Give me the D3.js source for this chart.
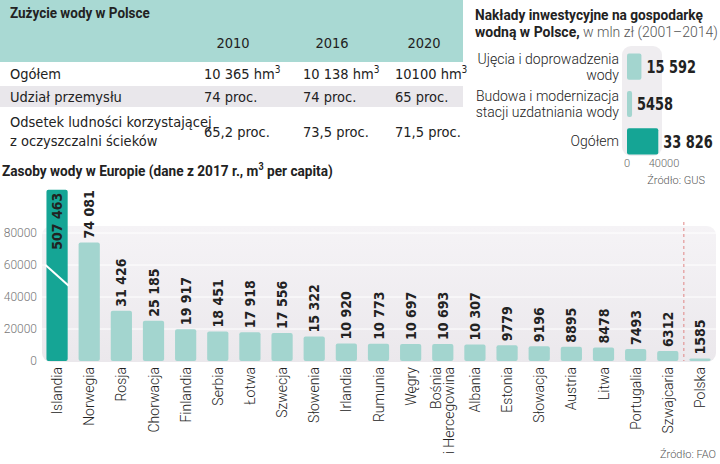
<!DOCTYPE html>
<html>
<head>
<meta charset="utf-8">
<script src="https://cdn.jsdelivr.net/npm/d3@7"></script>
<style>
	body { margin: 0; background: #fff; }
	svg { display: block; }
</style>
</head>
<body>
<svg id="chart" width="720" height="464" viewBox="0 0 720 464"></svg>
<script>

// tabela: zuzycie wody
const table_title = 'Zużycie wody w Polsce';
const table_years = ['2010', '2016', '2020'];
const table_labels = [['Ogółem'], ['Udział przemysłu'], ['Odsetek ludności korzystającej', 'z oczyszczalni ścieków']];
const usage_total = ['10 365 hm', '10 138 hm', '10100 hm'];
const usage_industry = ['74 proc.', '74 proc.', '65 proc.'];
const usage_sewage = ['65,2 proc.', '73,5 proc.', '71,5 proc.'];

// naklady inwestycyjne
const invest_labels = [['Ujęcia i doprowadzenia', 'wody'], ['Budowa i modernizacja', 'stacji uzdatniania wody'], ['Ogółem']];
const invest_values = [15592, 5458, 33826];
const invest_ticks = [0, 40000];

// zasoby wody w Europie
const countries = ['Islandia', 'Norwegia', 'Rosja', 'Chorwacja', 'Finlandia', 'Serbia', 'Łotwa', 'Szwecja', 'Słowenia', 'Irlandia',
	'Rumunia', 'Węgry', 'Bośnia|i Hercegowina', 'Albania', 'Estonia', 'Słowacja', 'Austria', 'Litwa', 'Portugalia', 'Szwajcaria', 'Polska'];
const water_values = [507463, 74081, 31426, 25185, 19917, 18451, 17918, 17556, 15322, 10920,
	10773, 10697, 10693, 10307, 9779, 9196, 8895, 8478, 7493, 6312, 1585];
const water_ticks = [0, 20000, 40000, 60000, 80000];
const water_break = 107000; // Islandia poza skala

const TEAL = '#15a595';
const TEAL_LIGHT = '#a3d5cf';
const TXT = '#222';
const FONT = '"Liberation Sans Narrow", "DejaVu Sans Condensed", sans-serif';
const NUM_FONT = '"DejaVu Sans Condensed", sans-serif';
const LIGHT_FONT = 'Roboto, sans-serif';

function fmt(v) {
	// 4 cyfry bez spacji, wieksze z odstepem tysiecy
	if (v < 10000) return String(v);
	return d3.format(',')(v).replace(/,/g, '\u00a0');
}

// pogrubiony tytul, sciesniony w poziomie do zadanej szerokosci
function title(g, x, y, width) {
	const t = g.append('text').attr('x', 0).attr('y', 0)
		.style('font', 'bold 15px Roboto, sans-serif').attr('fill', TXT);
	// skala liczona po dodaniu tekstu
	t.fit = () => {
		const k = width / t.node().getComputedTextLength();
		t.attr('transform', 'translate(' + x + ',' + y + ') scale(' + k + ',1)');
		return t;
	};
	return t;
}

function drawTable(svg) {
	const g = svg.append('g');
	g.append('rect').attr('x', 0).attr('y', 0).attr('width', 463).attr('height', 62).attr('fill', '#a9d9d3');
	g.append('rect').attr('x', 0).attr('y', 86).attr('width', 463).attr('height', 21).attr('fill', '#e9e7eb');

	title(g, 10, 18, 140).text(table_title).fit();

	const col_x = [204, 303, 395];
	g.selectAll('text.year').data(table_years).enter().append('text')
		.attr('class', 'year')
		.attr('x', (d, i) => col_x[i] + 29).attr('y', 48)
		.attr('text-anchor', 'middle')
		.style('font', '14.5px ' + FONT).attr('fill', TXT).text(d => d);

	const row_y = [79, 102, 127];
	table_labels.forEach((lines, r) => {
		lines.forEach((l, k) => {
			g.append('text').attr('x', 10).attr('y', row_y[r] + k * 19)
				.style('font', '14.5px ' + FONT).attr('fill', TXT).text(l);
		});
	});

	const rows = [usage_total, usage_industry, usage_sewage];
	const val_y = [79, 102, 137];
	rows.forEach((vals, r) => {
		vals.forEach((v, i) => {
			const t = g.append('text').attr('x', col_x[i]).attr('y', val_y[r])
				.style('font', '14.5px ' + FONT).attr('fill', TXT).text(v);
			if (r === 0) {
				t.append('tspan').attr('dy', -6).style('font-size', '10px').text('3');
			}
		});
	});
}

function drawInvest(svg) {
	const g = svg.append('g');
	title(g, 475, 20, 228).text('Nakłady inwestycyjne na gospodarkę').fit();
	const t2 = title(g, 475, 37, 243);
	t2.append('tspan').text('wodną w Polsce,');
	t2.append('tspan').style('font-weight', '300').attr('fill', '#555').text(' w mln zł (2001–2014)');
	t2.fit();

	const x = d3.scaleLinear().domain([0, 40000]).range([627, 664]);
	const y = d3.scaleBand().domain(d3.range(invest_values.length)).range([48, 160]).paddingInner(0.3).paddingOuter(0.15);

	g.append('rect').attr('x', 622).attr('y', 46).attr('width', 40).attr('height', 110).attr('rx', 9)
		.attr('fill', '#efedf0');

	g.selectAll('rect.bar').data(invest_values).enter().append('rect')
		.attr('class', 'bar')
		.attr('x', x(0)).attr('y', (d, i) => y(i))
		.attr('width', d => x(d) - x(0)).attr('height', y.bandwidth())
		.attr('rx', 2)
		.attr('fill', (d, i) => i === invest_values.length - 1 ? TEAL : TEAL_LIGHT);

	g.selectAll('text.val').data(invest_values).enter().append('text')
		.attr('class', 'val')
		.attr('transform', (d, i) => 'translate(' + (x(d) + 5) + ',' + (y(i) + y.bandwidth() / 2) + ') scale(0.8,1)')
		.attr('dy', '0.36em')
		.style('font', 'bold 18px ' + NUM_FONT).attr('fill', TXT).text(d => fmt(d));

	invest_labels.forEach((lines, i) => {
		const cy = y(i) + y.bandwidth() / 2;
		const top = cy - (lines.length - 1) * 16 / 2;
		lines.forEach((l, k) => {
			g.append('text').attr('x', 619).attr('y', top + k * 16).attr('dy', '0.36em')
				.attr('text-anchor', 'end')
				.style('font', '300 14px ' + LIGHT_FONT).attr('fill', TXT).text(l);
		});
	});

	g.selectAll('text.tick').data(invest_ticks).enter().append('text')
		.attr('class', 'tick')
		.attr('x', d => x(d)).attr('y', 167).attr('text-anchor', 'middle')
		.style('font', '300 11px ' + LIGHT_FONT).attr('fill', '#666').text(d => d);

	g.append('text').attr('x', 705).attr('y', 184).attr('text-anchor', 'end')
		.style('font', '300 11px ' + LIGHT_FONT).attr('fill', '#555').text('Źródło: GUS');
}

function drawWater(svg) {
	const g = svg.append('g');
	const t = title(g, 2, 176, 331);
	t.append('tspan').text('Zasoby wody w Europie (dane z 2017 r., m');
	t.append('tspan').attr('dy', -6).style('font-size', '10px').text('3');
	t.append('tspan').attr('dy', 6).text(' per capita)');
	t.fit();

	const x = d3.scaleBand().domain(countries).range([41, 716]).paddingInner(0.34).paddingOuter(0.17);
	const y = d3.scaleLinear().domain([0, 80000]).range([361, 233]);

	const defs = svg.append('defs');
	const grad = defs.append('linearGradient').attr('id', 'bg').attr('x1', 0).attr('y1', 0).attr('x2', 0).attr('y2', 1);
	grad.append('stop').attr('offset', '0%').attr('stop-color', '#f5f3f6');
	grad.append('stop').attr('offset', '100%').attr('stop-color', '#ebe8ec');

	g.append('rect').attr('x', 42).attr('y', 226).attr('width', 674).attr('height', 136).attr('rx', 9)
		.attr('fill', 'url(#bg)');

	g.selectAll('line.grid').data(water_ticks.slice(1)).enter().append('line')
		.attr('class', 'grid')
		.attr('x1', 42).attr('x2', 716)
		.attr('y1', d => y(d)).attr('y2', d => y(d))
		.attr('stroke', '#fff').attr('stroke-width', 1);

	g.selectAll('text.ytick').data(water_ticks).enter().append('text')
		.attr('class', 'ytick')
		.attr('x', 37).attr('y', d => y(d)).attr('dy', '0.36em').attr('text-anchor', 'end')
		.style('font', '300 12px ' + LIGHT_FONT).attr('fill', '#777').text(d => d);

	// linia oddzielajaca Polske
	const sep_x = (x('Szwajcaria') + x.bandwidth() + x('Polska')) / 2;
	g.append('line').attr('x1', sep_x).attr('x2', sep_x).attr('y1', 222).attr('y2', 361)
		.attr('stroke', '#e08585').attr('stroke-width', 1).attr('stroke-dasharray', '3,3');

	const data = countries.map((c, i) => ({ c: c, v: water_values[i], broken: water_values[i] > water_break }));

	g.selectAll('rect.bar').data(data).enter().append('rect')
		.attr('class', 'bar')
		.attr('x', d => x(d.c)).attr('width', x.bandwidth())
		.attr('y', d => y(Math.min(d.v, water_break)))
		.attr('height', d => y(0) - y(Math.min(d.v, water_break)))
		.attr('rx', 2)
		.attr('fill', d => d.broken ? TEAL : TEAL_LIGHT);

	// przerwanie skali
	data.filter(d => d.broken).forEach(d => {
		g.append('line')
			.attr('x1', x(d.c) - 1).attr('y1', y(60000))
			.attr('x2', x(d.c) + x.bandwidth() + 1).attr('y2', y(47000))
			.attr('stroke', '#fff').attr('stroke-width', 2);
	});

	g.selectAll('text.val').data(data).enter().append('text')
		.attr('class', 'val')
		.attr('transform', d => {
			const top = y(Math.min(d.v, water_break));
			const ty = d.broken ? top + 3 : top - 4;
			return 'translate(' + (x(d.c) + x.bandwidth() / 2) + ',' + ty + ') rotate(-90)';
		})
		.attr('text-anchor', d => d.broken ? 'end' : 'start')
		.attr('dy', '0.36em')
		.style('font', 'bold 14px ' + NUM_FONT).attr('fill', TXT).text(d => fmt(d.v));

	data.forEach(d => {
		const lines = d.c.split('|');
		const cx = x(d.c) + x.bandwidth() / 2;
		lines.forEach((l, k) => {
			const lx = cx + (k - (lines.length - 1) / 2) * 13;
			g.append('text')
				.attr('transform', 'translate(' + lx + ',367) rotate(-90)')
				.attr('text-anchor', 'end').attr('dy', '0.36em')
				.style('font', '300 14px ' + LIGHT_FONT).attr('fill', TXT).text(l);
		});
	});

	g.append('text').attr('x', 716).attr('y', 458).attr('text-anchor', 'end')
		.style('font', '300 11px ' + LIGHT_FONT).attr('fill', '#555').text('Źródło: FAO');
}

function whenDocumentLoaded(action) {
	if (document.readyState === 'loading') {
		document.addEventListener('DOMContentLoaded', action);
	} else {
		action();
	}
}

whenDocumentLoaded(() => {
	const svg = d3.select('#chart');
	drawTable(svg);
	drawInvest(svg);
	drawWater(svg);
});
</script>
</body>
</html>
